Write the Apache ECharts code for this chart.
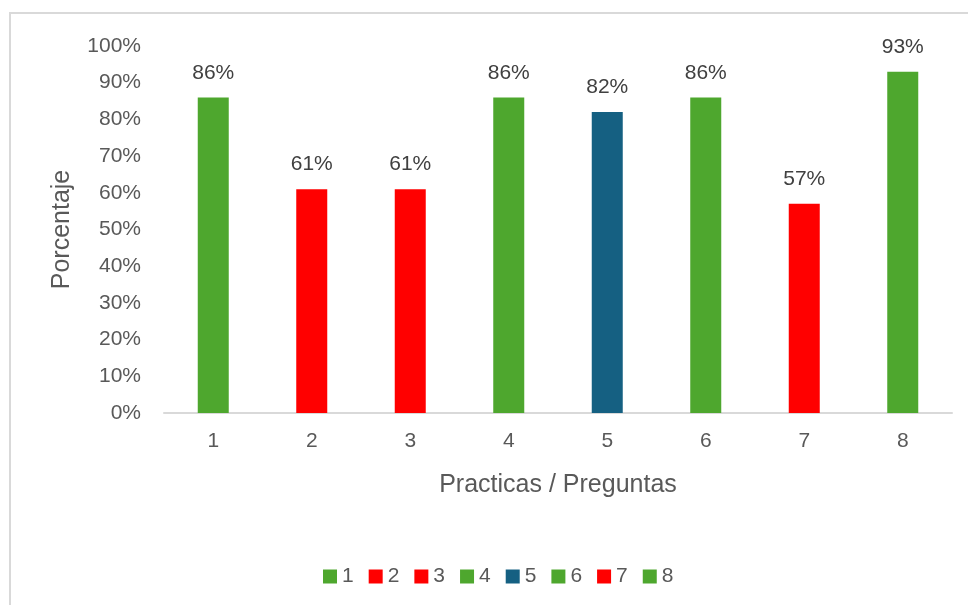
<!DOCTYPE html>
<html>
<head>
<meta charset="utf-8">
<script src="https://cdn.jsdelivr.net/npm/echarts@6/dist/echarts.min.js"></script>
<style>
  html, body { margin: 0; padding: 0; background: #ffffff; }
  #chart { width: 968px; height: 605px; }
</style>
</head>
<body>
<div id="chart"></div>
<script>
// Categories along the x axis (practice / question number)
const categories = ['1', '2', '3', '4', '5', '6', '7', '8'];
// Percentage achieved per practice / question
const values = [86, 61, 61, 86, 82, 86, 57, 93];
// Fill colour of each bar
const barColors = ['#4EA72E', '#FF0000', '#FF0000', '#4EA72E', '#156082', '#4EA72E', '#FF0000', '#4EA72E'];
// Y axis range and step, in percent
const yMin = 0, yMax = 100, yStep = 10;

const FONT = '"Liberation Sans", Arial, sans-serif';
const TEXT = '#595959';

// One series per category so each bar gets its own legend entry
const series = categories.map((name, i) => ({
  name: name,
  type: 'bar',
  barWidth: 31,
  barGap: '-100%',
  itemStyle: { color: barColors[i] },
  label: {
    show: true,
    position: 'top',
    distance: 14,
    formatter: p => p.value + '%',
    color: '#404040',
    fontSize: 21,
    fontFamily: FONT
  },
  data: categories.map((c, j) => (j === i ? values[i] : '-'))
}));

const chart = echarts.init(document.getElementById('chart'), null, { renderer: 'canvas' });
chart.setOption({
  animation: false,
  backgroundColor: '#ffffff',
  textStyle: { fontFamily: FONT },
  graphic: [{
    type: 'rect',
    shape: { x: 10, y: 13, width: 1000, height: 700 },
    style: { fill: 'none', stroke: '#d9d9d9', lineWidth: 2 },
    silent: true
  }],
  grid: { left: 164, right: 16, top: 46, bottom: 192, containLabel: false },
  legend: {
    bottom: 13,
    left: 318,
    icon: 'rect',
    itemWidth: 14,
    itemHeight: 14,
    itemGap: 15,
    textStyle: { color: TEXT, fontSize: 21, fontFamily: FONT, padding: [0, 0, 0, 0] },
    data: categories
  },
  xAxis: {
    type: 'category',
    data: categories,
    name: 'Practicas / Preguntas',
    nameLocation: 'middle',
    nameGap: 60,
    nameTextStyle: { color: TEXT, fontSize: 25, fontFamily: FONT },
    axisLine: { lineStyle: { color: '#d9d9d9', width: 2 } },
    axisTick: { show: false },
    axisLabel: { color: TEXT, fontSize: 21, margin: 18, fontFamily: FONT }
  },
  yAxis: {
    type: 'value',
    min: yMin,
    max: yMax,
    interval: yStep,
    name: 'Porcentaje',
    nameLocation: 'middle',
    nameGap: 89,
    nameTextStyle: { color: TEXT, fontSize: 25, fontFamily: FONT },
    axisLine: { show: false },
    axisTick: { show: false },
    splitLine: { show: false },
    axisLabel: { color: TEXT, fontSize: 21, margin: 23, fontFamily: FONT, formatter: v => v + '%' }
  },
  series: series
});
</script>
</body>
</html>
